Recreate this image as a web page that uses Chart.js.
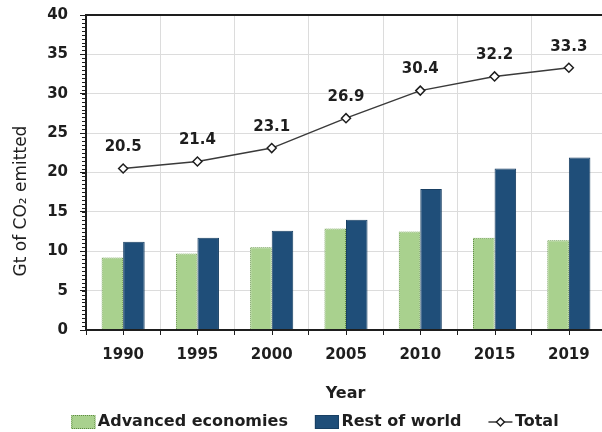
<!DOCTYPE html>
<html>
<head>
<meta charset="utf-8">
<script src="https://cdn.jsdelivr.net/npm/chart.js@4/dist/chart.umd.min.js"></script>
<style>
  html, body { margin: 0; padding: 0; overflow: hidden; background: #fff; }
  canvas { display: block; }
</style>
</head>
<body>
<canvas id="c" width="612" height="432"></canvas>
<script>
// CO2 emissions by group, Gt per year
const years = ['1990', '1995', '2000', '2005', '2010', '2015', '2019'];
const advanced = [9.2, 9.7, 10.5, 12.9, 12.5, 11.7, 11.4];
const restOfWorld = [11.2, 11.7, 12.6, 14.0, 17.9, 20.5, 21.9];
const total = [20.5, 21.4, 23.1, 26.9, 30.4, 32.2, 33.3];
const yMin = 0, yMax = 40, yStep = 5, yMinorStep = 0.5;

const FONT = "'DejaVu Sans', sans-serif";
const INK = '#1e1e1e';
const GREEN = '#a9d18e';
const GREEN_EDGE = '#5f8a44';
const BLUE = '#1f4e79';

// checkerboard pattern used as a dotted outline for the green bars
function dottedPattern(dot, base) {
  const c = document.createElement('canvas');
  c.width = 2; c.height = 2;
  const g = c.getContext('2d');
  g.fillStyle = base; g.fillRect(0, 0, 2, 2);
  g.fillStyle = dot; g.fillRect(0, 0, 1, 1); g.fillRect(1, 1, 1, 1);
  return g.createPattern(c, 'repeat');
}
const greenDots = dottedPattern(GREEN_EDGE, GREEN);

function line(ctx, x1, y1, x2, y2) {
  ctx.beginPath(); ctx.moveTo(x1, y1); ctx.lineTo(x2, y2); ctx.stroke();
}
function diamond(ctx, cx, cy, r) {
  ctx.beginPath();
  ctx.moveTo(cx, cy - r); ctx.lineTo(cx + r, cy); ctx.lineTo(cx, cy + r); ctx.lineTo(cx - r, cy);
  ctx.closePath(); ctx.fill(); ctx.stroke();
}

const decorations = {
  id: 'decorations',
  afterDatasetsDraw(chart) {
    const { ctx, chartArea: a, scales: { x, y } } = chart;
    ctx.save();
    ctx.strokeStyle = INK;
    ctx.lineWidth = 1;
    // minor ticks on the value axis
    for (let v = yMin; v <= yMax + 1e-9; v += yMinorStep) {
      const py = Math.round(y.getPixelForValue(v)) + 0.5;
      line(ctx, a.left - 4, py, a.left, py);
    }
    // tick marks under each category centre
    years.forEach((_, i) => {
      const px = Math.round(x.getPixelForValue(i)) + 0.5;
      line(ctx, px, a.bottom, px, a.bottom + 5);
    });
    // plot frame
    ctx.lineWidth = 2;
    ctx.strokeRect(a.left, a.top, a.right - a.left, a.bottom - a.top);

    // total values above the line markers
    ctx.fillStyle = INK;
    ctx.font = 'bold 15px ' + FONT;
    ctx.textAlign = 'center';
    ctx.textBaseline = 'middle';
    const meta = chart.getDatasetMeta(2);
    meta.data.forEach((pt, i) => {
      ctx.fillText(total[i].toFixed(1), pt.x, pt.y - 21);
    });
    ctx.restore();
  },
  afterDraw(chart) {
    const { ctx } = chart;
    ctx.save();
    ctx.fillStyle = INK;
    ctx.textBaseline = 'middle';

    // axis titles
    ctx.textAlign = 'center';
    ctx.font = 'bold 16px ' + FONT;
    ctx.fillText('Year', 345.5, 394);
    ctx.save();
    ctx.translate(22, 201);
    ctx.rotate(-Math.PI / 2);
    ctx.font = '17px ' + FONT;
    ctx.fillText('Gt of CO\u2082 emitted', 0, 0);
    ctx.restore();

    // legend
    ctx.font = 'bold 16px ' + FONT;
    ctx.textAlign = 'left';
    const iconW = 24, iconGap = 2.5, itemGap = 27, ly = 422;
    const ds = chart.data.datasets;
    const widths = ds.map(d => iconW + iconGap + ctx.measureText(d.label).width);
    const full = widths.reduce((s, w) => s + w, 0) + itemGap * (ds.length - 1);
    let lx = 315 - full / 2;
    ds.forEach((d, i) => {
      if (d.type === 'line') {
        ctx.strokeStyle = '#3a3a3a';
        ctx.lineWidth = 1.5;
        line(ctx, lx, ly, lx + iconW, ly);
        ctx.fillStyle = '#fff';
        ctx.strokeStyle = INK;
        diamond(ctx, lx + iconW / 2, ly, 4);
      } else {
        ctx.fillStyle = d.backgroundColor;
        ctx.fillRect(lx, ly - 7, iconW, 14);
        ctx.strokeStyle = d.legendEdge;
        ctx.lineWidth = 1;
        ctx.strokeRect(lx + 0.5, ly - 6.5, iconW - 1, 13);
      }
      ctx.fillStyle = INK;
      ctx.fillText(d.label, lx + iconW + iconGap, ly);
      lx += widths[i] + itemGap;
    });
    ctx.restore();
  }
};

new Chart(document.getElementById('c'), {
  type: 'bar',
  data: {
    labels: years,
    datasets: [
      {
        label: 'Advanced economies',
        data: advanced,
        backgroundColor: GREEN,
        borderColor: greenDots,
        legendEdge: greenDots,
        borderWidth: 1,
        borderSkipped: 'bottom',
        order: 1
      },
      {
        label: 'Rest of world',
        data: restOfWorld,
        backgroundColor: BLUE,
        borderColor: '#183f63',
        legendEdge: '#183f63',
        borderWidth: 1,
        borderSkipped: 'bottom',
        order: 1
      },
      {
        type: 'line',
        label: 'Total',
        data: total,
        borderColor: '#3a3a3a',
        borderWidth: 1.5,
        pointStyle: 'rectRot',
        pointRadius: 4.5,
        pointBackgroundColor: '#fff',
        pointBorderColor: INK,
        pointBorderWidth: 1.5,
        tension: 0,
        order: 0
      }
    ]
  },
  options: {
    responsive: false,
    devicePixelRatio: 1,
    animation: false,
    layout: { padding: { left: 0, right: 3, top: 15, bottom: 0 } },
    datasets: { bar: { categoryPercentage: 0.58, barPercentage: 1 } },
    plugins: { legend: { display: false }, tooltip: { enabled: false } },
    scales: {
      x: {
        offset: true,
        grid: { offset: true, color: '#dcdcdc', lineWidth: 1, tickColor: INK, tickLength: 5 },
        border: { display: false },
        ticks: { color: INK, font: { family: FONT, size: 15, weight: 'bold' }, padding: 11, maxRotation: 0 },
        afterFit(s) { s.height = 102; s.paddingLeft = 0; s.paddingRight = 0; }
      },
      y: {
        min: yMin,
        max: yMax,
        grid: { color: '#dcdcdc', lineWidth: 1, tickColor: INK, tickLength: 6 },
        border: { display: false },
        ticks: { stepSize: yStep, color: INK, font: { family: FONT, size: 15, weight: 'bold' }, padding: 12 },
        afterFit(s) { s.width = 86; s.paddingTop = 0; s.paddingBottom = 0; }
      }
    }
  },
  plugins: [decorations]
});
</script>
</body>
</html>
